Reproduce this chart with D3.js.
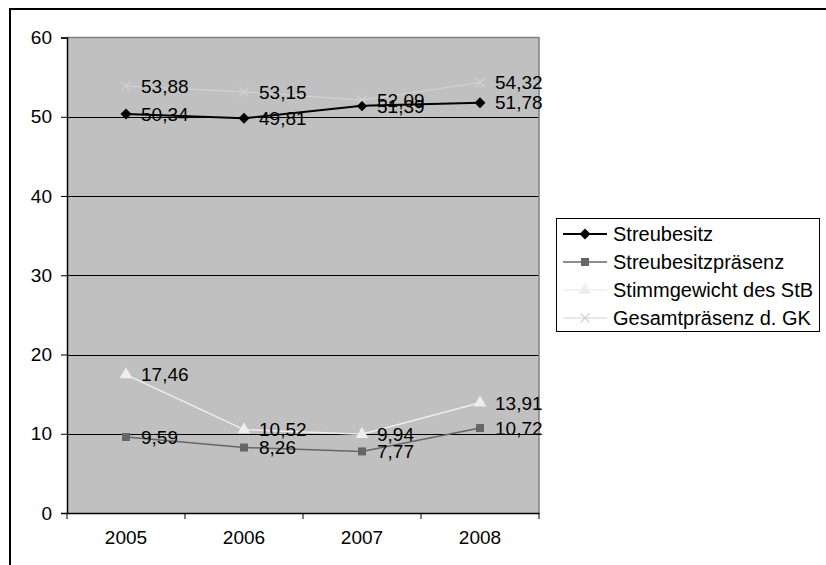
<!DOCTYPE html>
<html><head><meta charset="utf-8">
<script src="https://cdn.jsdelivr.net/npm/d3@7/dist/d3.min.js"></script>
<style>
body{margin:0;background:#fff;}
text{font-family:"Liberation Sans",Arial,sans-serif;fill:#000;}
</style></head>
<body><svg id="c" width="826" height="565"></svg>
<script>
const categories = ["2005","2006","2007","2008"];
const seriesNames = ["Streubesitz","Streubesitzpräsenz","Stimmgewicht des StB","Gesamtpräsenz d. GK"];
const streubesitz = [50.34, 49.81, 51.39, 51.78];
const streubesitzPraesenz = [9.59, 8.26, 7.77, 10.72];
const stimmgewicht = [17.46, 10.52, 9.94, 13.91];
const gesamtpraesenz = [53.88, 53.15, 52.09, 54.32];
const yTicks = [0,10,20,30,40,50,60];

const styles = [
  {color:"#000000", marker:"diamond", msize:5.5, width:2, mfill:"#000000"},
  {color:"#666666", marker:d3.symbolSquare, msize:64, width:1.5, mfill:"#666666"},
  {color:"#eeeeee", marker:d3.symbolTriangle, msize:70, width:1.5, mfill:"#eeeeee"},
  {color:"#d2d2d2", marker:"x", msize:9, width:1.2, mfill:"none"}
];
const seriesVals = [streubesitz, streubesitzPraesenz, stimmgewicht, gesamtpraesenz];

const svg = d3.select("#c");
svg.append("rect").attr("x",10).attr("y",9).attr("width",830).attr("height",570)
  .attr("fill","none").attr("stroke","#000").attr("stroke-width",2);

const L=67, R=539, T=37.5, B=513;
const x = d3.scaleBand().domain(categories).range([L,R]);
const y = d3.scaleLinear().domain([0,60]).range([B,T]);

svg.append("rect").attr("x",L).attr("y",T).attr("width",R-L).attr("height",B-T).attr("fill","#c0c0c0");
svg.append("g").selectAll("line").data(yTicks.filter(t=>t>0&&t<60)).join("line")
  .attr("x1",L).attr("x2",R).attr("y1",d=>Math.round(y(d))+0.5).attr("y2",d=>Math.round(y(d))+0.5)
  .attr("stroke","#000").attr("stroke-width",1);
svg.append("path").attr("d",`M${L},${T}H${R}V${B}`).attr("fill","none").attr("stroke","#808080").attr("stroke-width",1.5);

const yAxis = d3.axisLeft(y).tickValues(yTicks).tickSize(6).tickPadding(9);
const gy = svg.append("g").attr("transform",`translate(${L},0)`).call(yAxis);
gy.select(".domain").attr("stroke","#000").attr("stroke-width",1.5);
gy.selectAll(".tick line").attr("stroke","#000");
gy.selectAll(".tick text").attr("font-size",19).attr("font-family","Liberation Sans, Arial, sans-serif").attr("fill","#000");

const xAxis = d3.axisBottom(x).tickSize(0).tickPadding(18);
const gx = svg.append("g").attr("transform",`translate(0,${B})`).call(xAxis);
gx.select(".domain").attr("stroke","#000").attr("stroke-width",1.5);
gx.selectAll(".tick text").attr("font-size",19).attr("font-family","Liberation Sans, Arial, sans-serif").attr("fill","#000");
gx.append("g").selectAll("line").data(categories.concat(["end"])).join("line")
  .attr("x1",(d,i)=>i<categories.length?x(d):R).attr("x2",(d,i)=>i<categories.length?x(d):R)
  .attr("y1",0).attr("y2",6).attr("stroke","#000").attr("stroke-width",1);

const cx = c => x(c)+x.bandwidth()/2;
const line = d3.line().x((d,i)=>cx(categories[i])).y(d=>y(d));

function drawMarker(g, st, px, py){
  if(st.marker==="x"){
    const s=st.msize/2;
    g.append("path").attr("d",`M${px-s},${py-s}L${px+s},${py+s}M${px-s},${py+s}L${px+s},${py-s}`)
      .attr("stroke",st.color).attr("stroke-width",1.2).attr("fill","none");
  } else if(st.marker==="diamond"){
    const s=st.msize;
    g.append("path").attr("d",`M${px},${py-s}L${px+s},${py}L${px},${py+s}L${px-s},${py}Z`)
      .attr("fill",st.mfill);
  } else {
    g.append("path").attr("d",d3.symbol().type(st.marker).size(st.msize)())
      .attr("transform",`translate(${px},${py})`).attr("fill",st.mfill);
  }
}

const plot = svg.append("g");
seriesVals.forEach((vals,si)=>{
  const st=styles[si];
  plot.append("path").datum(vals).attr("d",line).attr("fill","none")
    .attr("stroke",st.color).attr("stroke-width",st.width);
  vals.forEach((v,i)=>drawMarker(plot, st, cx(categories[i]), y(v)));
});
seriesVals.forEach((vals,si)=>{
  vals.forEach((v,i)=>{
    svg.append("text").attr("x",cx(categories[i])+15).attr("y",y(v)).attr("dy","0.36em")
      .attr("font-size",19).text(d3.format(".2f")(v).replace(".",","));
  });
});

const lg = svg.append("g");
lg.append("rect").attr("x",556.5).attr("y",218.5).attr("width",263).attr("height",113)
  .attr("fill","#fff").attr("stroke","#000").attr("stroke-width",1);
seriesNames.forEach((n,si)=>{
  const st=styles[si];
  const ry = 234 + si*28;
  lg.append("line").attr("x1",563).attr("x2",607).attr("y1",ry).attr("y2",ry)
    .attr("stroke",st.color).attr("stroke-width",st.width);
  drawMarker(lg, st, 585, ry);
  lg.append("text").attr("x",613).attr("y",ry).attr("dy","0.36em").attr("font-size",20).text(n);
});
</script></body></html>
